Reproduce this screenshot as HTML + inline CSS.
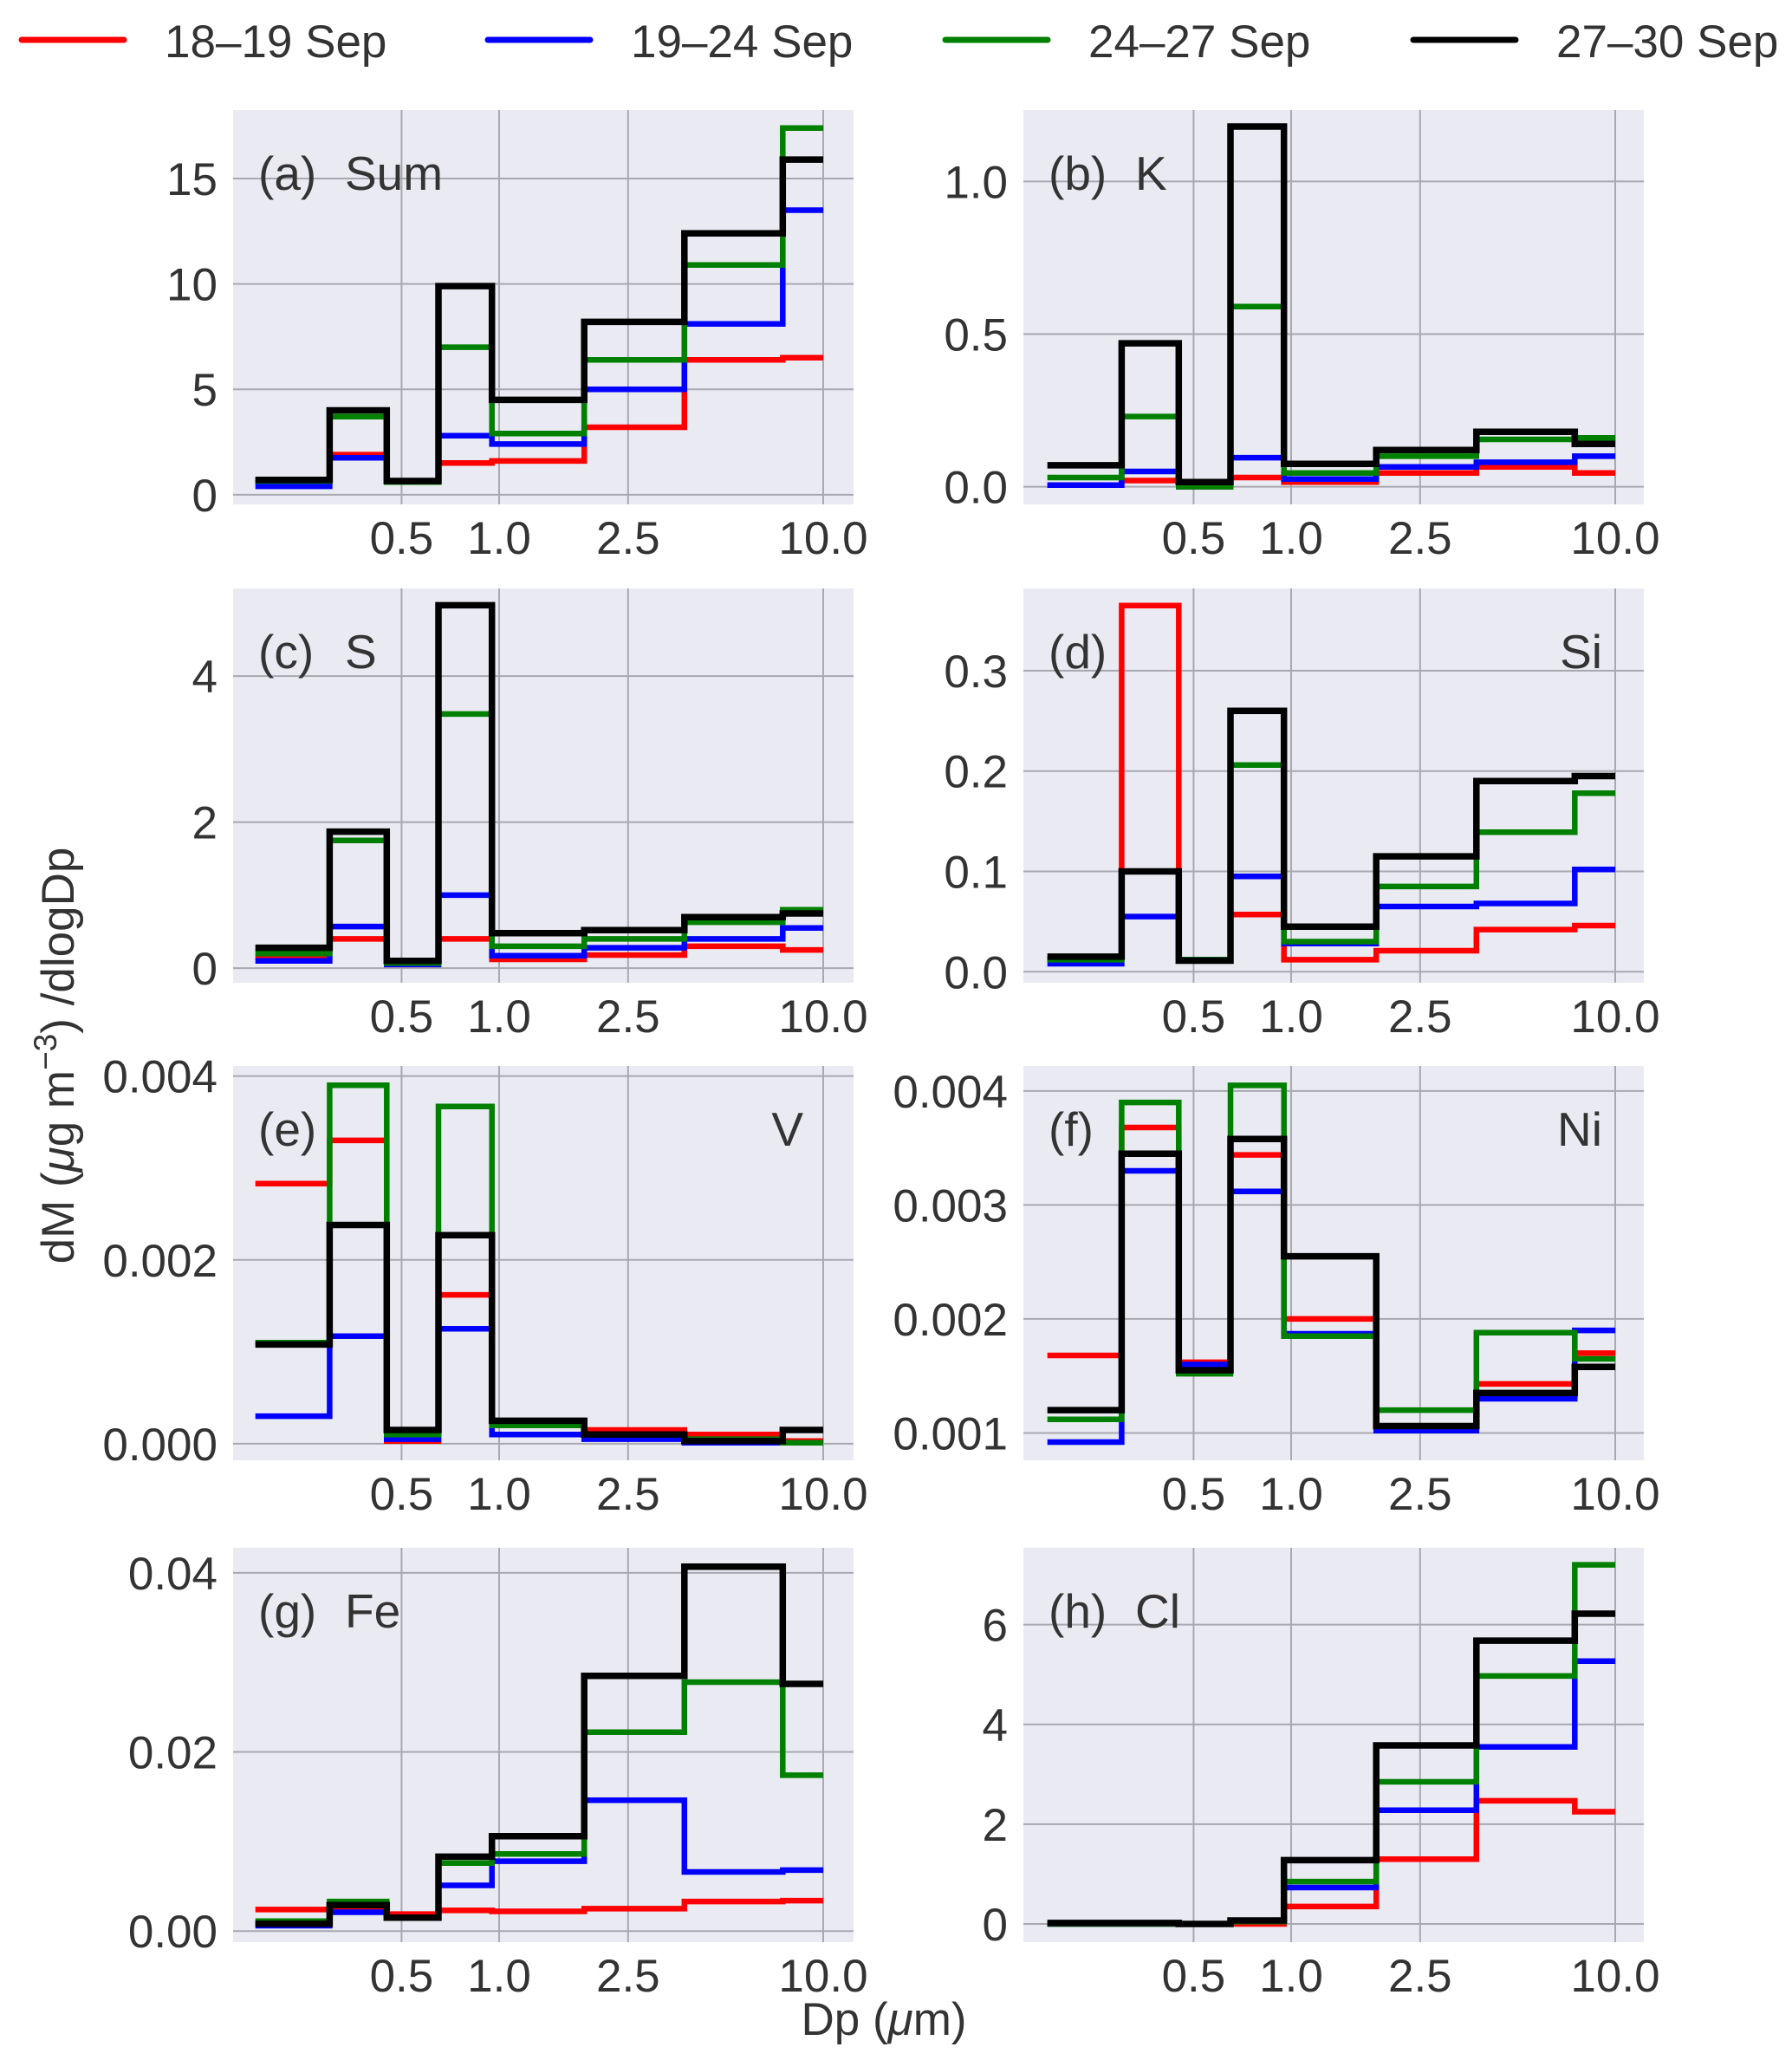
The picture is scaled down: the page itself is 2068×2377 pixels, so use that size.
<!DOCTYPE html>
<html><head><meta charset="utf-8">
<style>
html,body{margin:0;padding:0;background:#fff;}
svg{display:block;font-family:"Liberation Sans",sans-serif;}
</style></head>
<body>
<svg id="fig" width="2068" height="2377" viewBox="0 0 2068 2377"></svg>
<script>
const binEdges = [0.177, 0.30, 0.45, 0.65, 0.95, 1.83, 3.73, 7.5, 10];
const seriesNames = ["18–19 Sep", "19–24 Sep", "24–27 Sep", "27–30 Sep"];
const xTicks = [0.5, 1.0, 2.5, 10.0];
const xTickLabels = ["0.5", "1.0", "2.5", "10.0"];

const sumRed   = [0.6, 1.9, 0.6, 1.5, 1.6, 3.2, 6.4, 6.5];
const sumBlue  = [0.4, 1.75, 0.6, 2.8, 2.4, 5.0, 8.1, 13.5];
const sumGreen = [0.65, 3.7, 0.6, 7.0, 2.9, 6.4, 10.9, 17.4];
const sumBlack = [0.7, 4.0, 0.65, 9.9, 4.5, 8.2, 12.4, 15.9];

const kRed   = [0.005, 0.02, 0.0, 0.03, 0.015, 0.045, 0.065, 0.045];
const kBlue  = [0.005, 0.05, 0.0, 0.095, 0.025, 0.065, 0.08, 0.1];
const kGreen = [0.03, 0.23, 0.0, 0.59, 0.045, 0.1, 0.155, 0.16];
const kBlack = [0.07, 0.47, 0.015, 1.18, 0.075, 0.12, 0.18, 0.14];

const sRed   = [0.15, 0.4, 0.05, 0.4, 0.12, 0.18, 0.3, 0.25];
const sBlue  = [0.1, 0.57, 0.05, 1.0, 0.17, 0.28, 0.4, 0.55];
const sGreen = [0.2, 1.75, 0.07, 3.48, 0.3, 0.4, 0.63, 0.8];
const sBlack = [0.28, 1.87, 0.1, 4.97, 0.48, 0.52, 0.7, 0.75];

const siRed   = [0.013, 0.365, 0.012, 0.057, 0.012, 0.021, 0.042, 0.046];
const siBlue  = [0.008, 0.055, 0.012, 0.095, 0.028, 0.065, 0.068, 0.102];
const siGreen = [0.012, 0.1, 0.012, 0.206, 0.03, 0.085, 0.139, 0.178];
const siBlack = [0.015, 0.1, 0.011, 0.26, 0.045, 0.115, 0.19, 0.195];

const vRed   = [0.00283, 0.0033, 0.00003, 0.00162, 0.0002, 0.00015, 0.0001, 0.00003];
const vBlue  = [0.0003, 0.00117, 0.00005, 0.00125, 0.0001, 0.00005, 0.00001, 0.00001];
const vGreen = [0.0011, 0.0039, 0.0001, 0.00367, 0.0002, 0.0001, 0.00005, 0.00001];
const vBlack = [0.00108, 0.00238, 0.00015, 0.00227, 0.00025, 0.0001, 0.00003, 0.00015];

const niRed   = [0.00168, 0.00368, 0.00162, 0.00344, 0.002, 0.00105, 0.00143, 0.0017];
const niBlue  = [0.00092, 0.0033, 0.0016, 0.00312, 0.00187, 0.00102, 0.0013, 0.0019];
const niGreen = [0.00112, 0.0039, 0.00152, 0.00405, 0.00185, 0.0012, 0.00188, 0.00165];
const niBlack = [0.0012, 0.00345, 0.00155, 0.00358, 0.00255, 0.00106, 0.00135, 0.00158];

const feRed   = [0.0024, 0.0023, 0.0019, 0.0023, 0.0022, 0.0025, 0.0033, 0.0034];
const feBlue  = [0.0006, 0.0021, 0.0015, 0.0051, 0.0078, 0.0146, 0.0066, 0.0068];
const feGreen = [0.0011, 0.0033, 0.0015, 0.0076, 0.0086, 0.0222, 0.0278, 0.0174];
const feBlack = [0.0008, 0.0029, 0.0015, 0.0083, 0.0106, 0.0285, 0.0407, 0.0276];

const clRed   = [0.0, 0.0, 0.0, 0.0, 0.35, 1.3, 2.47, 2.25];
const clBlue  = [0.0, 0.0, 0.0, 0.05, 0.73, 2.28, 3.55, 5.27];
const clGreen = [0.0, 0.0, 0.0, 0.05, 0.85, 2.85, 4.97, 7.2];
const clBlack = [0.02, 0.02, 0.0, 0.07, 1.28, 3.58, 5.68, 6.22];

const yTicksA = [0, 5, 10, 15];       const yLabA = ["0","5","10","15"];
const yTicksB = [0, 0.5, 1.0];        const yLabB = ["0.0","0.5","1.0"];
const yTicksC = [0, 2, 4];            const yLabC = ["0","2","4"];
const yTicksD = [0, 0.1, 0.2, 0.3];   const yLabD = ["0.0","0.1","0.2","0.3"];
const yTicksE = [0, 0.002, 0.004];    const yLabE = ["0.000","0.002","0.004"];
const yTicksF = [0.001, 0.002, 0.003, 0.004]; const yLabF = ["0.001","0.002","0.003","0.004"];
const yTicksG = [0, 0.02, 0.04];      const yLabG = ["0.00","0.02","0.04"];
const yTicksH = [0, 2, 4, 6];         const yLabH = ["0","2","4","6"];

const colors = ["#ff0000", "#0000ff", "#008000", "#000000"];
const NS = "http://www.w3.org/2000/svg";
const svg = document.getElementById("fig");
const TXT = "#333333";
const FS = 53;

function mk(tag, attrs, parent) {
  const e = document.createElementNS(NS, tag);
  for (const k in attrs) e.setAttribute(k, attrs[k]);
  (parent || svg).appendChild(e);
  return e;
}

const panels = [
  {id:"a", label:"(a)", el:"Sum", elRight:false, col:0, row:0, ymin:-0.46, ymax:18.25, ticks:yTicksA, labs:yLabA, data:[sumRed,sumBlue,sumGreen,sumBlack]},
  {id:"b", label:"(b)", el:"K",   elRight:false, col:1, row:0, ymin:-0.058, ymax:1.234, ticks:yTicksB, labs:yLabB, data:[kRed,kBlue,kGreen,kBlack]},
  {id:"c", label:"(c)", el:"S",   elRight:false, col:0, row:1, ymin:-0.2, ymax:5.2, ticks:yTicksC, labs:yLabC, data:[sRed,sBlue,sGreen,sBlack]},
  {id:"d", label:"(d)", el:"Si",  elRight:true,  col:1, row:1, ymin:-0.011, ymax:0.382, ticks:yTicksD, labs:yLabD, data:[siRed,siBlue,siGreen,siBlack]},
  {id:"e", label:"(e)", el:"V",   elRight:true,  col:0, row:2, ymin:-0.00018, ymax:0.00411, ticks:yTicksE, labs:yLabE, data:[vRed,vBlue,vGreen,vBlack]},
  {id:"f", label:"(f)", el:"Ni",  elRight:true,  col:1, row:2, ymin:0.00076, ymax:0.00422, ticks:yTicksF, labs:yLabF, data:[niRed,niBlue,niGreen,niBlack]},
  {id:"g", label:"(g)", el:"Fe",  elRight:false, col:0, row:3, ymin:-0.00124, ymax:0.0428, ticks:yTicksG, labs:yLabG, data:[feRed,feBlue,feGreen,feBlack]},
  {id:"h", label:"(h)", el:"Cl",  elRight:false, col:1, row:3, ymin:-0.364, ymax:7.54, ticks:yTicksH, labs:yLabH, data:[clRed,clBlue,clGreen,clBlack]}
];

const colLeft = [269, 1181];
const colOne = [576, 1490];
const PW = 716;
const rowTop = [127, 679, 1230, 1786];
const PH = 455;
const DEC = 374;

panels.forEach(p => {
  const L = colLeft[p.col], T = rowTop[p.row];
  const xs = d => colOne[p.col] + DEC * Math.log10(d);
  const ys = v => T + PH - (v - p.ymin) / (p.ymax - p.ymin) * PH;
  const g = mk("g", {});
  
  
  const bg = mk("rect", {x:L, y:T, width:PW, height:PH, fill:"#eaeaf2"}, g);
  
  
  xTicks.forEach((t, i) => {
    const x = xs(t);
    const gl = mk("line", {x1:x, x2:x, y1:T, y2:T+PH, stroke:"#a8a8b0", "stroke-width":2}, g);
    
    
    const tl = mk("text", {x:x, y:T+PH+57, "text-anchor":"middle", "font-size":FS, fill:TXT}, g);
    tl.textContent = xTickLabels[i];
    
    
  });
  p.ticks.forEach((t, i) => {
    const y = ys(t);
    const gl = mk("line", {x1:L, x2:L+PW, y1:y, y2:y, stroke:"#a8a8b0", "stroke-width":2}, g);
    
    
    const tl = mk("text", {x:L-18, y:y+19, "text-anchor":"end", "font-size":FS, fill:TXT}, g);
    tl.textContent = p.labs[i];
    
    
  });
  p.data.forEach((vals, si) => {
    let d = "M" + xs(binEdges[0]).toFixed(1) + "," + ys(vals[0]).toFixed(1);
    for (let i = 0; i < vals.length; i++) {
      if (i > 0) d += " V" + ys(vals[i]).toFixed(1);
      d += " H" + xs(binEdges[i+1]).toFixed(1);
    }
    const path = mk("path", {d:d, fill:"none", stroke:colors[si], "stroke-width":si===3?7.5:6.5, "stroke-linejoin":"miter"}, g);
    
    
  });
  const lab = mk("text", {x:L+29, y:T+92, "font-size":55, fill:TXT}, g);
  lab.textContent = p.label;
  
  
  const el = p.elRight
    ? mk("text", {x:L+PW-(p.id==="e"?58:48), y:T+92, "text-anchor":"end", "font-size":55, fill:TXT}, g)
    : mk("text", {x:L+129, y:T+92, "font-size":55, fill:TXT}, g);
  el.textContent = p.el;
  
  
});

const legX = [25, 563, 1091, 1631];
seriesNames.forEach((n, i) => {
  const lg = mk("g", {});
  
  
  mk("line", {x1:legX[i], x2:legX[i]+118, y1:46, y2:46, stroke:colors[i], "stroke-width":7, "stroke-linecap":"round"}, lg);
  const t = mk("text", {x:legX[i]+165, y:66, "font-size":FS, fill:TXT}, lg);
  t.textContent = n;
});

const yt = mk("text", {x:0, y:0, "font-size":FS, fill:TXT, "text-anchor":"middle", transform:"translate(85,1218) rotate(-90)"});
yt.innerHTML = 'dM (<tspan font-style="italic">μ</tspan>g m<tspan dy="-20" font-size="37">−3</tspan><tspan dy="20">) /dlogDp</tspan>';


const xt = mk("text", {x:1020, y:2348, "font-size":FS, fill:TXT, "text-anchor":"middle"});
xt.innerHTML = 'Dp (<tspan font-style="italic">μ</tspan>m)';


</script>
</body></html>
